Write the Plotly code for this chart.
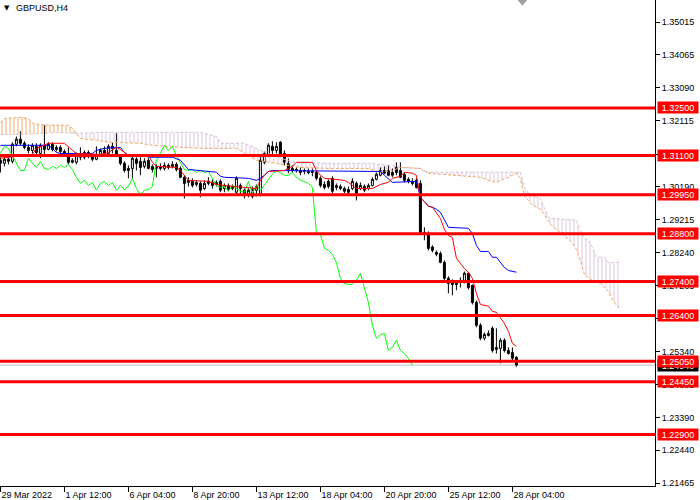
import plotly.graph_objects as go

# ---------------- data ----------------
bar_index = list(range(130))

open_ = [
    1.3096, 1.3087, 1.3099, 1.3093, 1.3143, 1.3158, 1.3146, 1.3134, 1.3125, 1.3137,
    1.3116, 1.3140, 1.3128, 1.3143, 1.3128, 1.3134, 1.3122, 1.3116, 1.3090, 1.3090,
    1.3110, 1.3105, 1.3119, 1.3108, 1.3099, 1.3113, 1.3125, 1.3116, 1.3137, 1.3125,
    1.3110, 1.3087, 1.3072, 1.3072, 1.3099, 1.3093, 1.3078, 1.3096, 1.3078, 1.3072,
    1.3078, 1.3072, 1.3081, 1.3078, 1.3084, 1.3072, 1.3046, 1.3031, 1.3034, 1.3025,
    1.3028, 1.3013, 1.3028, 1.3031, 1.3025, 1.3034, 1.3013, 1.3022, 1.3013, 1.3002,
    1.3022, 1.3008, 1.2996, 1.2990, 1.3008, 1.2996, 1.3090, 1.3110, 1.3137, 1.3125,
    1.3149, 1.3116, 1.3087, 1.3072, 1.3066, 1.3066, 1.3063, 1.3063, 1.3060, 1.3060,
    1.3043, 1.3025, 1.3034, 1.3043, 1.3016, 1.3019, 1.3013, 1.3010, 1.3013, 1.3028,
    1.3013, 1.3019, 1.3013, 1.3022, 1.3040, 1.3052, 1.3066, 1.3066, 1.3060, 1.3075,
    1.3066, 1.3055, 1.3040, 1.3034, 1.3037, 1.3028, 1.2884, 1.2881, 1.2841, 1.2825,
    1.2822, 1.2796, 1.2749, 1.2737, 1.2734, 1.2737, 1.2740, 1.2764, 1.2728, 1.2678,
    1.2611, 1.2573, 1.2581, 1.2602, 1.2540, 1.2543, 1.2567, 1.2537, 1.2531, 1.2517,
]
high = [
    1.3105, 1.3108, 1.3105, 1.3149, 1.3166, 1.3181, 1.3152, 1.3143, 1.3146, 1.3146,
    1.3146, 1.3199, 1.3149, 1.3149, 1.3140, 1.3140, 1.3128, 1.3134, 1.3102, 1.3119,
    1.3134, 1.3125, 1.3125, 1.3116, 1.3137, 1.3131, 1.3137, 1.3143, 1.3149, 1.3175,
    1.3113, 1.3093, 1.3081, 1.3108, 1.3105, 1.3105, 1.3102, 1.3102, 1.3084, 1.3084,
    1.3087, 1.3090, 1.3087, 1.3093, 1.3090, 1.3078, 1.3052, 1.3046, 1.3043, 1.3037,
    1.3034, 1.3037, 1.3046, 1.3040, 1.3037, 1.3040, 1.3028, 1.3028, 1.3025, 1.3049,
    1.3028, 1.3013, 1.3013, 1.3019, 1.3025, 1.3105, 1.3122, 1.3146, 1.3152, 1.3149,
    1.3152, 1.3125, 1.3102, 1.3081, 1.3075, 1.3075, 1.3072, 1.3072, 1.3072, 1.3066,
    1.3049, 1.3034, 1.3040, 1.3049, 1.3028, 1.3025, 1.3019, 1.3019, 1.3043, 1.3034,
    1.3031, 1.3025, 1.3028, 1.3046, 1.3060, 1.3075, 1.3078, 1.3081, 1.3072, 1.3090,
    1.3090, 1.3060, 1.3046, 1.3043, 1.3043, 1.3037, 1.2899, 1.2887, 1.2846, 1.2831,
    1.2828, 1.2802, 1.2755, 1.2746, 1.2743, 1.2752, 1.2769, 1.2767, 1.2731, 1.2684,
    1.2617, 1.2590, 1.2596, 1.2608, 1.2602, 1.2573, 1.2573, 1.2546, 1.2546, 1.2520,
]
low = [
    1.3060, 1.3078, 1.3084, 1.3087, 1.3137, 1.3140, 1.3128, 1.3116, 1.3116, 1.3110,
    1.3102, 1.3110, 1.3125, 1.3122, 1.3122, 1.3116, 1.3108, 1.3084, 1.3087, 1.3084,
    1.3096, 1.3099, 1.3102, 1.3093, 1.3096, 1.3108, 1.3110, 1.3110, 1.3116, 1.3105,
    1.3081, 1.3060, 1.3043, 1.3043, 1.3066, 1.3052, 1.3072, 1.3069, 1.3060, 1.3046,
    1.3066, 1.3066, 1.3069, 1.3072, 1.3063, 1.3043, 1.2984, 1.3019, 1.3016, 1.3019,
    1.2987, 1.3008, 1.3022, 1.3013, 1.3019, 1.3002, 1.3002, 1.3005, 1.3008, 1.2996,
    1.2993, 1.2984, 1.2987, 1.2984, 1.2990, 1.2990, 1.3084, 1.3105, 1.3110, 1.3116,
    1.3105, 1.3081, 1.3058, 1.3060, 1.3060, 1.3052, 1.3055, 1.3055, 1.3049, 1.3037,
    1.3016, 1.3010, 1.3013, 1.2999, 1.3008, 1.3008, 1.2999, 1.2996, 1.3008, 1.2978,
    1.3008, 1.3002, 1.3008, 1.3019, 1.3037, 1.3049, 1.3055, 1.3049, 1.3046, 1.3052,
    1.3043, 1.3031, 1.3028, 1.3022, 1.3013, 1.2881, 1.2861, 1.2831, 1.2825, 1.2814,
    1.2793, 1.2743, 1.2705, 1.2699, 1.2714, 1.2722, 1.2734, 1.2716, 1.2672, 1.2605,
    1.2567, 1.2567, 1.2578, 1.2531, 1.2528, 1.2499, 1.2531, 1.2525, 1.2508, 1.2489,
]
close = [
    1.3087, 1.3099, 1.3093, 1.3143, 1.3158, 1.3146, 1.3134, 1.3125, 1.3140, 1.3119,
    1.3140, 1.3128, 1.3143, 1.3128, 1.3134, 1.3122, 1.3116, 1.3090, 1.3096, 1.3110,
    1.3105, 1.3119, 1.3108, 1.3099, 1.3113, 1.3125, 1.3116, 1.3137, 1.3131, 1.3110,
    1.3087, 1.3066, 1.3066, 1.3102, 1.3087, 1.3075, 1.3093, 1.3072, 1.3069, 1.3078,
    1.3072, 1.3081, 1.3075, 1.3084, 1.3069, 1.3046, 1.3028, 1.3037, 1.3022, 1.3031,
    1.3008, 1.3028, 1.3034, 1.3022, 1.3031, 1.3008, 1.3022, 1.3010, 1.3019, 1.3043,
    1.3013, 1.2993, 1.3008, 1.3010, 1.3019, 1.3096, 1.3116, 1.3140, 1.3125, 1.3137,
    1.3110, 1.3090, 1.3069, 1.3066, 1.3069, 1.3060, 1.3066, 1.3060, 1.3063, 1.3043,
    1.3022, 1.3016, 1.3019, 1.3005, 1.3022, 1.3013, 1.3005, 1.3002, 1.3034, 1.2999,
    1.3022, 1.3008, 1.3022, 1.3040, 1.3055, 1.3066, 1.3058, 1.3052, 1.3052, 1.3060,
    1.3046, 1.3037, 1.3034, 1.3028, 1.3016, 1.2884, 1.2878, 1.2837, 1.2831, 1.2820,
    1.2796, 1.2749, 1.2734, 1.2731, 1.2731, 1.2743, 1.2764, 1.2722, 1.2678, 1.2611,
    1.2573, 1.2584, 1.2587, 1.2537, 1.2546, 1.2567, 1.2537, 1.2528, 1.2514, 1.2494,
]

# Ichimoku lines (bar index, price)
tenkan_x = [0, 4, 5, 8, 9, 11, 12, 16, 17, 18, 19, 25, 27, 29, 30, 31, 32, 37, 38, 39,
            44, 45, 46, 47, 52, 54, 56, 61, 64, 65, 66, 67, 71, 73, 74, 78, 79, 80, 81, 86,
            87, 88, 89, 93, 94, 95, 97, 98, 100, 101, 103, 104, 105, 106, 107, 108, 109, 110, 111, 112,
            113, 114, 115, 116, 117, 118, 119, 120, 122, 123, 124, 125, 126, 127, 128, 129]
tenkan_y = [1.3102, 1.3108, 1.3110, 1.3113, 1.3131, 1.3140, 1.3146, 1.3146, 1.3134, 1.3125,
            1.3116, 1.3113, 1.3119, 1.3134, 1.3128, 1.3119, 1.3110, 1.3110, 1.3090, 1.3078,
            1.3075, 1.3066, 1.3052, 1.3037, 1.3034, 1.3025, 1.3022, 1.3016, 1.3013, 1.3037,
            1.3052, 1.3063, 1.3066, 1.3078, 1.3090, 1.3090, 1.3066, 1.3052, 1.3043, 1.3037,
            1.3031, 1.3022, 1.3013, 1.3013, 1.3019, 1.3025, 1.3031, 1.3043, 1.3049, 1.3061,
            1.3058, 1.3052, 1.2987, 1.2975, 1.2961, 1.2958, 1.2943, 1.2925, 1.2893, 1.2875,
            1.2869, 1.2808, 1.2793, 1.2778, 1.2767, 1.2749, 1.2705, 1.2672, 1.2667, 1.2652,
            1.2649, 1.2634, 1.2617, 1.2593, 1.2558, 1.2549]

kijun_x = [0, 12, 13, 14, 15, 23, 24, 26, 30, 31, 32, 36, 37, 43, 45, 46, 47, 54, 55, 56,
           62, 64, 65, 66, 67, 68, 95, 96, 97, 98, 104, 105, 106, 107, 108, 109, 110, 111, 112, 117,
           118, 119, 120, 122, 123, 124, 125, 126, 127, 129]
kijun_y = [1.3140, 1.3140, 1.3131, 1.3119, 1.3116, 1.3116, 1.3125, 1.3131, 1.3134, 1.3119,
           1.3110, 1.3110, 1.3105, 1.3105, 1.3096, 1.3081, 1.3069, 1.3061, 1.3049, 1.3046,
           1.3043, 1.3037, 1.3043, 1.3052, 1.3063, 1.3066, 1.3063, 1.3052, 1.3040, 1.3031,
           1.3034, 1.2987, 1.2975, 1.2961, 1.2958, 1.2952, 1.2943, 1.2919, 1.2899, 1.2896,
           1.2881, 1.2846, 1.2828, 1.2828, 1.2811, 1.2811, 1.2796, 1.2781, 1.2772, 1.2767]

span_a_x = [0, 1, 5, 7, 8, 9, 12, 17, 18, 19, 20, 24, 27, 35, 38, 45, 50, 59, 62, 64,
            69, 75, 82, 92, 95, 98, 100, 105, 107, 110, 120, 122, 124, 127, 129, 130, 131, 132, 133, 134,
            135, 136, 137, 138, 139, 140, 141, 142, 143, 144, 145, 146, 147, 148, 150, 151, 152, 153, 154, 155]
span_a_y = [1.3207, 1.3219, 1.3222, 1.3219, 1.3205, 1.3202, 1.3199, 1.3199, 1.3190, 1.3175,
            1.3160, 1.3155, 1.3149, 1.3146, 1.3140, 1.3134, 1.3131, 1.3131, 1.3110, 1.3096,
            1.3087, 1.3075, 1.3072, 1.3072, 1.3060, 1.3066, 1.3075, 1.3072, 1.3058, 1.3055,
            1.3046, 1.3037, 1.3031, 1.3046, 1.3058, 1.3043, 1.2990, 1.2978, 1.2964, 1.2958,
            1.2952, 1.2937, 1.2917, 1.2902, 1.2893, 1.2884, 1.2875, 1.2864, 1.2852, 1.2834,
            1.2802, 1.2761, 1.2749, 1.2743, 1.2734, 1.2723, 1.2711, 1.2687, 1.2669, 1.2658]

span_b_x = [0, 5, 10, 15, 19, 25, 50, 54, 55, 61, 65, 70, 74, 82, 92, 98, 100, 105, 106, 130,
            131, 132, 134, 135, 136, 137, 138, 144, 145, 146, 147, 148, 149, 151, 152, 155]
span_b_y = [1.3172, 1.3172, 1.3175, 1.3178, 1.3175, 1.3178, 1.3178, 1.3166, 1.3146, 1.3146,
            1.3125, 1.3102, 1.3090, 1.3087, 1.3087, 1.3081, 1.3075, 1.3072, 1.3061, 1.3061,
            1.3016, 1.2999, 1.2987, 1.2984, 1.2955, 1.2928, 1.2925, 1.2920, 1.2890, 1.2866,
            1.2861, 1.2840, 1.2811, 1.2811, 1.2796, 1.2796]

chikou_shift = 26
kumo_twist = 19          # bar where span A crosses span B

levels = [1.3250, 1.3110, 1.2995, 1.2880, 1.2740, 1.2640, 1.2505, 1.2445, 1.2290]

ytick_vals = [1.35015, 1.34065, 1.33090, 1.32115, 1.31140, 1.30190, 1.29215, 1.28240,
              1.27265, 1.26315, 1.25340, 1.24365, 1.23390, 1.22440, 1.21465]

xtick_idx = [0, 16, 32, 48, 64, 80, 96, 112, 128]
xtick_text = ["29 Mar 2022", "1 Apr 12:00", "6 Apr 04:00", "8 Apr 20:00", "13 Apr 12:00",
              "18 Apr 04:00", "20 Apr 20:00", "25 Apr 12:00", "28 Apr 04:00"]

symbol_text = "GBPUSD,H4"

# ---------------- figure ----------------
FONT = "Liberation Sans"
SANDY = "#F4A460"
THISTLE = "#D8BFD8"

fig = go.Figure()


def segment(xs, ys, lo, hi):
    return [(x, y) for x, y in zip(xs, ys) if lo <= x <= hi]


# Kumo (cloud) fills with vertical hatching
a_up = segment(span_a_x, span_a_y, 0, kumo_twist)
b_up = segment(span_b_x, span_b_y, 0, kumo_twist)
a_dn = segment(span_a_x, span_a_y, kumo_twist, 10 ** 6)
b_dn = segment(span_b_x, span_b_y, kumo_twist, 10 ** 6)

for top, bot, col in [(a_up, b_up, SANDY), (b_dn, a_dn, THISTLE)]:
    px = [p[0] for p in top] + [p[0] for p in reversed(bot)]
    py = [p[1] for p in top] + [p[1] for p in reversed(bot)]
    fig.add_trace(go.Scatter(
        x=px, y=py, mode="none", fill="toself", fillcolor="rgba(0,0,0,0)",
        fillpattern=dict(shape="|", fgcolor=col, bgcolor="rgba(0,0,0,0)",
                         size=4, solidity=0.25, fgopacity=0.9),
        hoverinfo="skip", showlegend=False))

fig.add_trace(go.Scatter(x=span_b_x, y=span_b_y, mode="lines",
                         line=dict(color=THISTLE, width=1, dash="3px,2px"),
                         hoverinfo="skip", showlegend=False))
fig.add_trace(go.Scatter(x=span_a_x, y=span_a_y, mode="lines",
                         line=dict(color=SANDY, width=1, dash="3px,2px"),
                         hoverinfo="skip", showlegend=False))

# Candles
fig.add_trace(go.Candlestick(
    x=bar_index, open=open_, high=high, low=low, close=close,
    increasing=dict(fillcolor="white", line=dict(color="black", width=1)),
    decreasing=dict(fillcolor="black", line=dict(color="black", width=1)),
    whiskerwidth=0, showlegend=False, hoverinfo="skip"))

# Ichimoku lines
fig.add_trace(go.Scatter(x=bar_index[:-chikou_shift], y=close[chikou_shift:], mode="lines",
                         line=dict(color="#00FF00", width=1), hoverinfo="skip", showlegend=False))
fig.add_trace(go.Scatter(x=kijun_x, y=kijun_y, mode="lines",
                         line=dict(color="#0000FF", width=1), hoverinfo="skip", showlegend=False))
fig.add_trace(go.Scatter(x=tenkan_x, y=tenkan_y, mode="lines",
                         line=dict(color="#FF0000", width=1), hoverinfo="skip", showlegend=False))

shapes = []
annotations = []

# bid line
last = close[-1]
shapes.append(dict(type="line", xref="paper", x0=0, x1=1, yref="y", y0=last, y1=last,
                   line=dict(color="#C0C0C0", width=1), layer="below"))
annotations.append(dict(xref="paper", x=1, xanchor="left", xshift=2, yref="y", y=last,
                        yanchor="middle", text=f"{last:.5f}", showarrow=False,
                        font=dict(family=FONT, size=9, color="white"),
                        bgcolor="black", width=38, height=9, borderpad=1))

# horizontal levels
for lv in levels:
    shapes.append(dict(type="line", xref="paper", x0=0, x1=1, yref="y", y0=lv, y1=lv,
                       line=dict(color="#FF0000", width=3), layer="above"))
    annotations.append(dict(xref="paper", x=1, xanchor="left", xshift=2, yref="y", y=lv,
                            yanchor="middle", text=f"{lv:.5f}", showarrow=False,
                            font=dict(family=FONT, size=9, color="white"),
                            bgcolor="#FF0000", width=38, height=9, borderpad=1))

# chart-shift marker
shapes.append(dict(type="path", xref="x", yref="paper",
                   path="M 129.3,1 L 131.7,1 L 130.5,0.988 Z",
                   fillcolor="#A0A0A0", line=dict(width=0)))

# title
annotations.append(dict(xref="paper", yref="paper", x=0, y=1, xanchor="left", yanchor="top",
                        xshift=2, yshift=-2, text="▼", showarrow=False,
                        font=dict(family="DejaVu Sans", size=7, color="black")))
annotations.append(dict(xref="paper", yref="paper", x=0, y=1, xanchor="left", yanchor="top",
                        xshift=14, yshift=-1, text=symbol_text, showarrow=False,
                        font=dict(family=FONT, size=9, color="black")))

fig.update_layout(
    width=700, height=500,
    margin=dict(l=0, r=45, t=0, b=14),
    paper_bgcolor="white", plot_bgcolor="white",
    showlegend=False,
    shapes=shapes, annotations=annotations,
    font=dict(family=FONT, size=9, color="black"),
    xaxis=dict(range=[-0.1, 163.65], showgrid=False, zeroline=False,
               showline=True, linecolor="black", linewidth=1,
               ticks="outside", ticklen=5, tickcolor="black",
               tickvals=xtick_idx, ticktext=xtick_text,
               ticklabelposition="outside right",
               tickfont=dict(family=FONT, size=9, color="black"),
               rangeslider=dict(visible=False), fixedrange=True),
    yaxis=dict(range=[1.21386, 1.35671], side="right", showgrid=False, zeroline=False,
               showline=True, linecolor="black", linewidth=1,
               ticks="outside", ticklen=4, tickcolor="black",
               tickvals=ytick_vals, ticktext=[f"{v:.5f}" for v in ytick_vals],
               tickfont=dict(family=FONT, size=9, color="black"), fixedrange=True),
)

fig.write_html("out.html", config={"displayModeBar": False},
               post_script="document.body.style.margin='0px';document.body.style.overflow='hidden';")
